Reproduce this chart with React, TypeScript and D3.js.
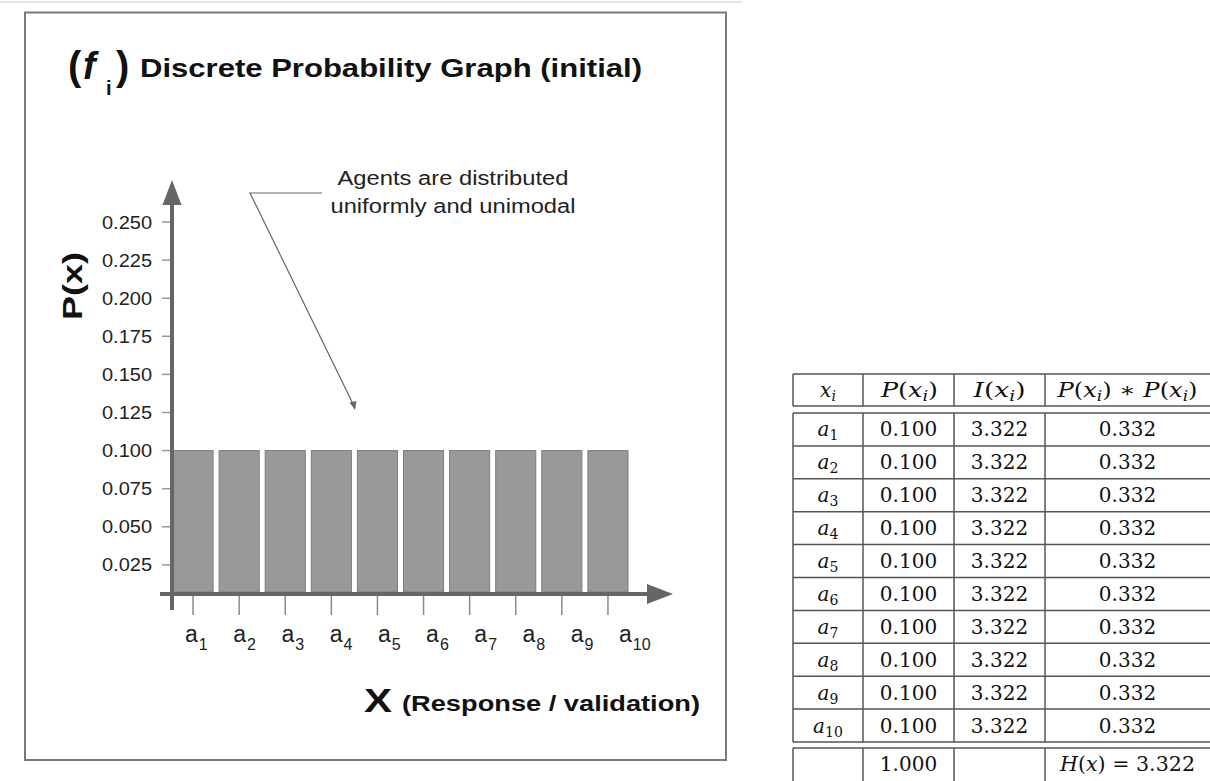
import React from 'react';
import * as d3 from 'd3';

const categories = ['a1', 'a2', 'a3', 'a4', 'a5', 'a6', 'a7', 'a8', 'a9', 'a10'];
const probabilities = [0.1, 0.1, 0.1, 0.1, 0.1, 0.1, 0.1, 0.1, 0.1, 0.1];
const information = [3.322, 3.322, 3.322, 3.322, 3.322, 3.322, 3.322, 3.322, 3.322, 3.322];
const products = [0.332, 0.332, 0.332, 0.332, 0.332, 0.332, 0.332, 0.332, 0.332, 0.332];
const yTickValues = [0.025, 0.05, 0.075, 0.1, 0.125, 0.15, 0.175, 0.2, 0.225, 0.25];
const totalProbability = 1.0;
const entropy = 3.322;

const SANS = "'Liberation Sans', Arial, sans-serif";
const SERIF = "'DejaVu Serif', serif";

function PX() {
  return (
    <>
      <tspan fontStyle="italic">P</tspan>
      <tspan>(</tspan>
      <tspan fontStyle="italic">x</tspan>
      <tspan fontStyle="italic" fontSize={14} dy={4}>i</tspan>
      <tspan dy={-4}>)</tspan>
    </>
  );
}

export default function App() {
  const y = d3.scaleLinear().domain([0, 0.25]).range([603, 222]);
  const x = d3.scaleBand<string>().domain(categories).range([173, 628]).paddingInner(0.13).paddingOuter(0);
  const labelX = d3.scalePoint<string>().domain(categories).range([185, 619]);
  const baseY = 592;
  const axisColor = '#666';
  const fmt = d3.format('.3f');

  // table layout
  const colEdges = [793, 863, 954, 1045, 1210];
  const colCenter = (i: number) => (colEdges[i] + colEdges[i + 1]) / 2;
  const rows = d3.scaleBand<string>().domain(categories).range([413, 742]);
  const headerTop = 374, headerBottom = 406, totalTop = 748, totalBottom = 781;
  const lineColor = '#555';

  const arrowTipY = 180, arrowTipX = 673;

  return (
    <svg width={1210} height={781} style={{ position: 'absolute', left: 0, top: 0, background: '#fff' }}>
      {/* faint top line */}
      <line x1={0} x2={742} y1={2} y2={2} stroke="#e6e6e6" strokeWidth={2} />
      {/* frame */}
      <rect x={25} y={12.5} width={701} height={747.5} fill="none" stroke="#7a7a7a" strokeWidth={2} />

      {/* title */}
      <g fontFamily={SANS} fontWeight="bold" fill="#111">
        <text x={68} y={80} fontSize={40}>(</text>
        <text x={83} y={79} fontSize={38} fontStyle="italic">f</text>
        <text x={106} y={95} fontSize={20}>i</text>
        <text x={116} y={80} fontSize={40}>)</text>
        <text x={140} y={77} fontSize={25} textLength={502} lengthAdjust="spacingAndGlyphs">Discrete Probability Graph (initial)</text>
      </g>

      {/* annotation */}
      <g fontFamily={SANS} fill="#222" fontSize={20} textAnchor="middle">
        <text x={453} y={185} textLength={231} lengthAdjust="spacingAndGlyphs">Agents are distributed</text>
        <text x={453} y={213} textLength={245} lengthAdjust="spacingAndGlyphs">uniformly and unimodal</text>
      </g>
      <g stroke="#666" strokeWidth={1.2} fill="none">
        <polyline points="322,193 250,193 355,408" />
      </g>
      <path d={`M355,410 L349.5,402.5 L356.5,401 Z`} fill="#666" />

      {/* bars */}
      {categories.map((c, i) => (
        <rect key={c} x={x(c)!} y={y(probabilities[i])} width={x.bandwidth()} height={baseY - y(probabilities[i])}
          fill="#999" stroke="#7d7d7d" strokeWidth={1} />
      ))}

      {/* y ticks */}
      {yTickValues.map(v => (
        <g key={v}>
          <line x1={162} x2={172} y1={y(v)} y2={y(v)} stroke="#999" strokeWidth={1.5} />
          <text x={152} y={y(v) + 6.5} textAnchor="end" fontFamily={SANS} fontSize={18} fill="#222"
            textLength={50} lengthAdjust="spacingAndGlyphs">{fmt(v)}</text>
        </g>
      ))}

      {/* x ticks and labels */}
      {categories.map(c => {
        const cx = x(c)! + x.bandwidth() / 2;
        return (
          <g key={c}>
            <line x1={cx} x2={cx} y1={596} y2={615} stroke="#8a8a8a" strokeWidth={1.5} />
            <text x={labelX(c)!} y={642} fontFamily={SANS} fontSize={23} fill="#222">
              <tspan>{c[0]}</tspan>
              <tspan fontSize={16} dy={8} dx={1}>{c.slice(1)}</tspan>
            </text>
          </g>
        );
      })}

      {/* axes */}
      <line x1={172} x2={172} y1={610} y2={arrowTipY + 20} stroke={axisColor} strokeWidth={4} />
      <path d={`M172,${arrowTipY} L181.5,${arrowTipY + 25} L162.5,${arrowTipY + 25} Z`} fill={axisColor} />
      <line x1={160} x2={arrowTipX - 20} y1={594} y2={594} stroke={axisColor} strokeWidth={4} />
      <path d={`M${arrowTipX},594 L${arrowTipX - 26},584 L${arrowTipX - 26},604 Z`} fill={axisColor} />

      {/* axis titles */}
      <text transform="translate(82,320) rotate(-90)" fontFamily={SANS} fontWeight="bold" fontSize={28} fill="#111"
        textLength={68} lengthAdjust="spacingAndGlyphs">P(x)</text>
      <text x={364} y={712} fontFamily={SANS} fontWeight="bold" fontSize={34} fill="#111"
        textLength={28} lengthAdjust="spacingAndGlyphs">X</text>
      <text x={402} y={711} fontFamily={SANS} fontWeight="bold" fontSize={22} fill="#111"
        textLength={298} lengthAdjust="spacingAndGlyphs">(Response / validation)</text>

      {/* table */}
      <g stroke={lineColor} strokeWidth={1.5}>
        <line x1={colEdges[0]} x2={1210} y1={headerTop} y2={headerTop} />
        <line x1={colEdges[0]} x2={1210} y1={headerBottom} y2={headerBottom} />
        {colEdges.slice(0, 4).map(cx => (
          <line key={'h' + cx} x1={cx} x2={cx} y1={headerTop} y2={headerBottom} />
        ))}
        <line x1={colEdges[0]} x2={1210} y1={413} y2={413} />
        {categories.map(c => (
          <line key={'r' + c} x1={colEdges[0]} x2={1210} y1={rows(c)! + rows.bandwidth()} y2={rows(c)! + rows.bandwidth()} />
        ))}
        {colEdges.slice(0, 4).map(cx => (
          <line key={'b' + cx} x1={cx} x2={cx} y1={413} y2={742} />
        ))}
        <line x1={colEdges[0]} x2={1210} y1={totalTop} y2={totalTop} />
        {colEdges.slice(0, 4).map(cx => (
          <line key={'t' + cx} x1={cx} x2={cx} y1={totalTop} y2={totalBottom} />
        ))}
      </g>
      <g fontFamily={SERIF} fontSize={20} fill="#111" textAnchor="middle">
        <text x={colCenter(0)} y={397}>
          <tspan fontStyle="italic">x</tspan>
          <tspan fontStyle="italic" fontSize={14} dy={4}>i</tspan>
        </text>
        <text x={colCenter(1) + 1} y={397} textLength={57} lengthAdjust="spacingAndGlyphs"><PX /></text>
        <text x={colCenter(2)} y={397} textLength={52} lengthAdjust="spacingAndGlyphs">
          <tspan fontStyle="italic">I</tspan>
          <tspan>(</tspan>
          <tspan fontStyle="italic">x</tspan>
          <tspan fontStyle="italic" fontSize={14} dy={4}>i</tspan>
          <tspan dy={-4}>)</tspan>
        </text>
        <text x={colCenter(3)} y={397} textLength={140} lengthAdjust="spacingAndGlyphs"><PX /><tspan>{' \u2217 '}</tspan><PX /></text>

        {categories.map((c, i) => {
          const by = rows(c)! + rows.bandwidth() / 2 + 7;
          return (
            <g key={'t' + c}>
              <text x={colCenter(0)} y={by}>
                <tspan fontStyle="italic">{c[0]}</tspan>
                <tspan fontSize={14} dy={4}>{c.slice(1)}</tspan>
              </text>
              <text x={colCenter(1)} y={by}>{fmt(probabilities[i])}</text>
              <text x={colCenter(2)} y={by}>{fmt(information[i])}</text>
              <text x={colCenter(3)} y={by}>{fmt(products[i])}</text>
            </g>
          );
        })}
        <text x={colCenter(1)} y={771}>{fmt(totalProbability)}</text>
        <text x={colCenter(3)} y={771} textLength={135} lengthAdjust="spacingAndGlyphs">
          <tspan fontStyle="italic">H</tspan>
          <tspan>(</tspan>
          <tspan fontStyle="italic">x</tspan>
          <tspan>{') = ' + fmt(entropy)}</tspan>
        </text>
      </g>
    </svg>
  );
}
